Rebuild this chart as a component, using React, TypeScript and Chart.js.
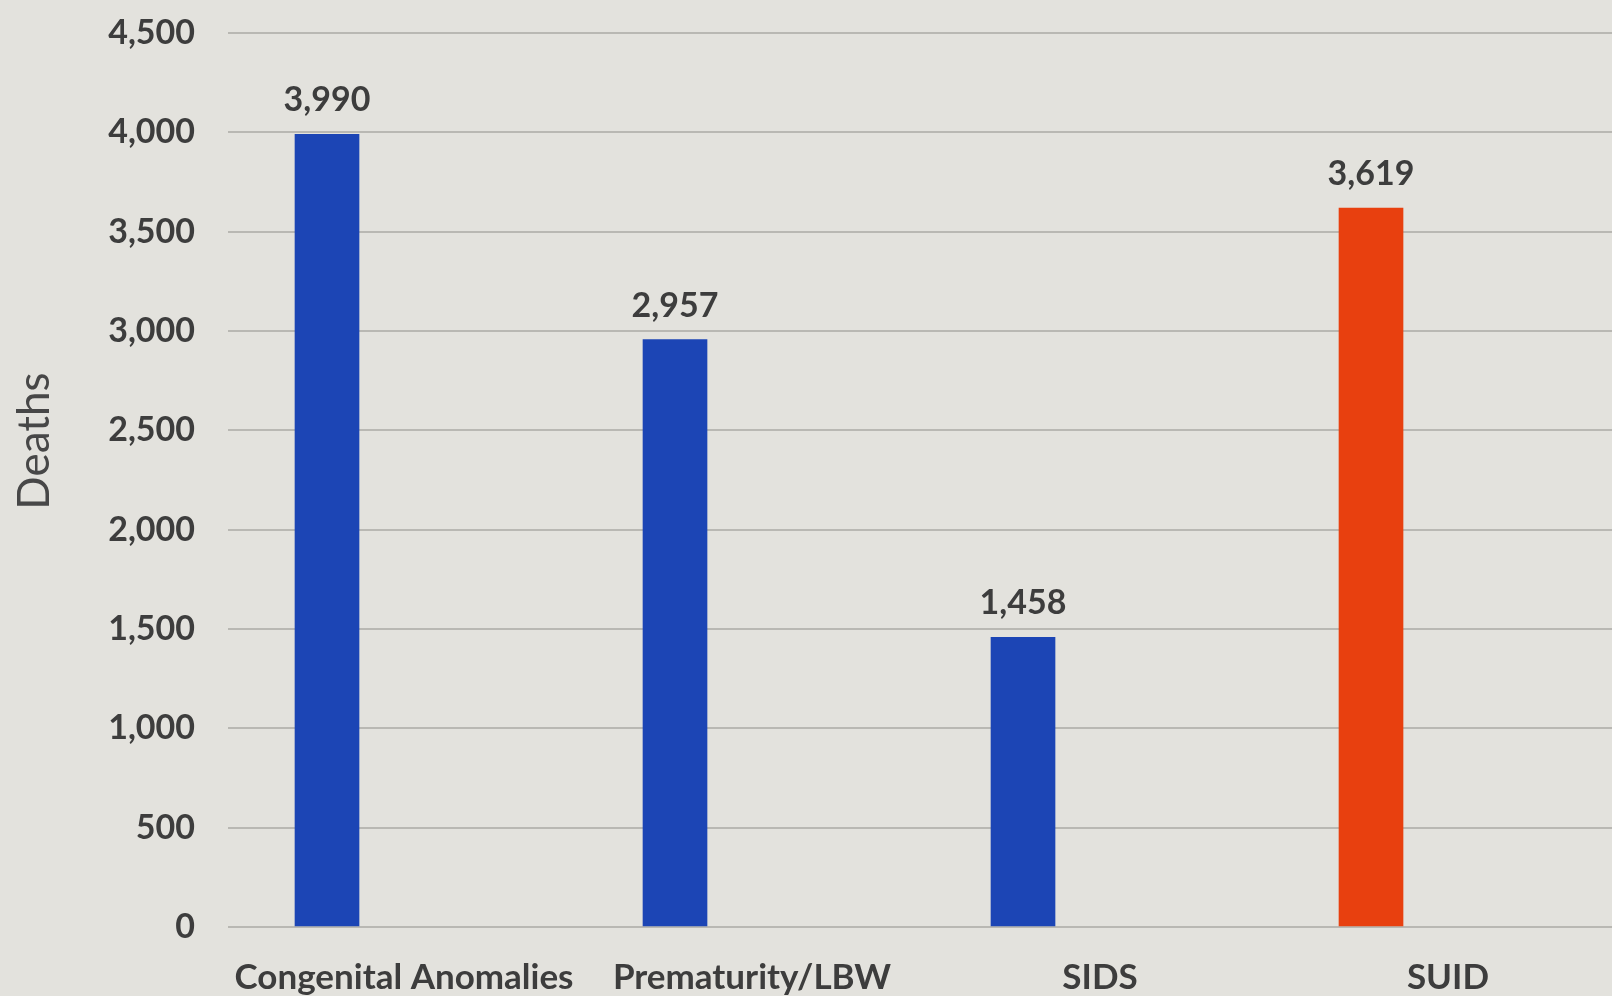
import React, { useEffect, useRef } from "react";
import { Chart, registerables } from "chart.js";

Chart.register(...registerables);

const categories = ["Congenital Anomalies", "Prematurity/LBW", "SIDS", "SUID"];
const deaths = [3990, 2957, 1458, 3619];
const barColors = ["#1c45b5", "#1c45b5", "#1c45b5", "#e8400f"];
const yTicks = [0, 500, 1000, 1500, 2000, 2500, 3000, 3500, 4000, 4500];
const yTitle = "Deaths";

const FONT = "Lato, 'Open Sans', sans-serif";
const fmt = (v: number) => v.toLocaleString("en-US");

const valueLabels = {
  id: "valueLabels",
  afterDatasetsDraw(chart: any) {
    const ctx = chart.ctx;
    const meta = chart.getDatasetMeta(0);
    ctx.save();
    ctx.font = `bold 34px ${FONT}`;
    ctx.fillStyle = "#3d3d3d";
    ctx.textAlign = "center";
    ctx.textBaseline = "middle";
    meta.data.forEach((el: any, i: number) => {
      ctx.fillText(fmt(deaths[i]), el.x, el.y - 34);
    });
    ctx.restore();
  },
};

const sideTitle = {
  id: "sideTitle",
  afterDraw(chart: any) {
    const ctx = chart.ctx;
    ctx.save();
    ctx.translate(35, 441);
    ctx.rotate(-Math.PI / 2);
    ctx.font = `44px ${FONT}`;
    ctx.fillStyle = "#474747";
    ctx.textAlign = "center";
    ctx.textBaseline = "middle";
    ctx.fillText(yTitle, 0, 0);
    ctx.restore();
  },
};

export default function App() {
  const ref = useRef<HTMLCanvasElement>(null);
  useEffect(() => {
    if (!ref.current) return;
    const chart = new Chart(ref.current, {
      type: "bar",
      data: {
        datasets: [
          {
            data: deaths.map((v, i) => ({ x: i, y: v })),
            backgroundColor: barColors,
            barThickness: 64,
            borderWidth: 0,
          },
        ],
      },
      options: {
        animation: false,
        responsive: false,
        maintainAspectRatio: false,
        layout: { padding: { top: 33, left: 0, right: 0, bottom: 0 } },
        plugins: { legend: { display: false }, tooltip: { enabled: false } },
        scales: {
          x: {
            type: "linear",
            offset: false,
            min: -0.2845,
            max: 3.6925,
            grid: { display: false },
            border: { display: false },
            afterBuildTicks: (scale: any) => {
              scale.ticks = categories.map((_, i) => ({ value: i }));
            },
            afterFit: (scale: any) => {
              scale.height = 69;
              scale.paddingLeft = 0;
              scale.paddingRight = 0;
            },
            ticks: {
              autoSkip: false,
              maxRotation: 0,
              minRotation: 0,
              labelOffset: 77,
              padding: 22,
              color: "#3d3d3d",
              font: { family: FONT, size: 35, weight: "bold" },
              callback: (v: any) => categories[v as number] ?? "",
            },
          },
          y: {
            min: 0,
            max: 4500,
            afterBuildTicks: (scale: any) => {
              scale.ticks = yTicks.map((v) => ({ value: v }));
            },
            afterFit: (scale: any) => {
              scale.width = 228;
              scale.paddingTop = 0;
              scale.paddingBottom = 0;
            },
            grid: { color: "#b9b8b3", lineWidth: 2, drawTicks: false },
            border: { display: false },
            ticks: {
              padding: 33,
              color: "#3d3d3d",
              font: { family: FONT, size: 34, weight: "bold" },
              callback: (v: any) => fmt(v as number),
            },
          },
        },
      },
      plugins: [valueLabels, sideTitle],
    } as any);
    return () => chart.destroy();
  }, []);
  return (
    <div
      style={{
        position: "fixed",
        left: 0,
        top: 0,
        width: 1612,
        height: 996,
        background: "#e3e2dd",
      }}
    >
      <canvas ref={ref} width={1612} height={996} style={{ width: 1612, height: 996, display: "block" }} />
    </div>
  );
}
